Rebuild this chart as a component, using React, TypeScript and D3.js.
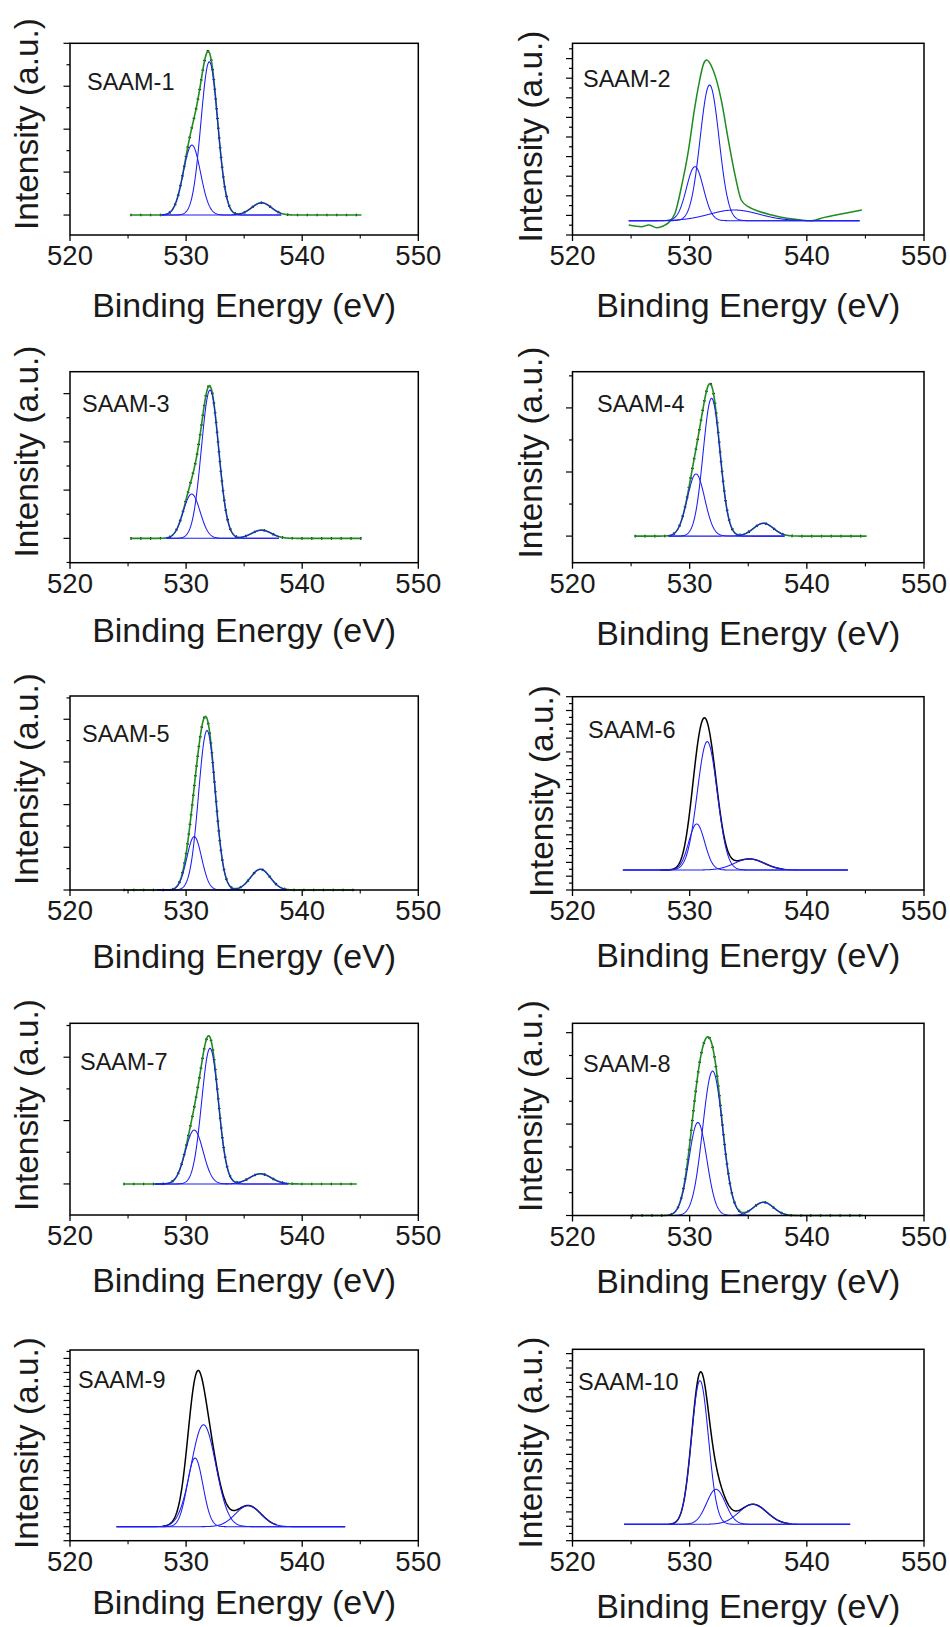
import React from 'react';
import * as d3 from 'd3';

// ---------------- DATA ----------------
const panelNames = ['SAAM-1', 'SAAM-2', 'SAAM-3', 'SAAM-4', 'SAAM-5', 'SAAM-6', 'SAAM-7', 'SAAM-8', 'SAAM-9', 'SAAM-10'];
const xDomain: [number, number] = [520, 550];
const xTicksMajor = [520, 530, 540, 550];
const xTicksMinor = [525, 535, 545];
const xTitle = 'Binding Energy (eV)';
const yTitle = 'Intensity (a.u.)';

// fitted components per panel: [centre eV, height a.u., FWHM eV]
const peaks1 = [[532.0, 7.14, 1.7], [530.5, 3.26, 1.75], [536.5, 0.57, 2.0]];
const peaks2 = [[531.7, 13.85, 1.9], [530.45, 5.51, 1.7], [533.8, 1.09, 5.0]];
const peaks3 = [[532.06, 6.15, 1.75], [530.48, 1.84, 1.7], [536.5, 0.34, 2.0]];
const peaks4 = [[531.87, 4.3, 1.7], [530.54, 1.94, 1.75], [536.3, 0.4, 2.0]];
const peaks5 = [[531.8, 7.47, 1.7], [530.7, 2.5, 1.5], [536.4, 0.97, 2.0]];
const peaks6 = [[531.5, 18.6, 2.0], [530.6, 6.67, 1.6], [535.1, 1.6, 3.0]];
const peaks7 = [[532.06, 4.28, 1.7], [530.7, 1.7, 1.8], [536.4, 0.32, 2.2]];
const peaks8 = [[531.96, 6.32, 2.0], [530.7, 4.07, 1.8], [536.3, 0.58, 2.0]];
const peaks9 = [[531.5, 14.53, 2.5], [530.77, 9.8, 1.6], [535.35, 3.0, 2.6]];
const peaks10 = [[530.88, 19.96, 1.7], [532.25, 4.86, 1.9], [535.4, 2.78, 2.8]];
const allPeaks = [peaks1, peaks2, peaks3, peaks4, peaks5, peaks6, peaks7, peaks8, peaks9, peaks10];

// measured SAAM-2 curve (green), eV vs. intensity above the fit baseline
const saam2Measured = [
  [524.8, -0.44], [525.9, -0.61], [526.5, -0.44], [527.2, -0.71], [527.75, -0.54], [528.2, -0.2],
  [528.75, 0.75], [529.3, 3.47], [529.9, 7.21], [530.4, 11.29], [530.8, 14.01], [531.2, 16.05],
  [531.45, 16.39], [532.0, 15.37], [532.7, 12.31], [533.3, 8.23], [533.9, 4.49], [534.4, 2.11],
  [535.0, 1.43], [536.0, 0.92], [537.0, 0.58], [538.3, 0.24], [539.5, 0.07], [540.4, 0.0],
  [541.5, 0.34], [542.5, 0.58], [543.5, 0.82], [544.7, 1.09],
];

// energy span of the envelope / data curve and of the fitted components
const envelopeSpan = [[525.2, 545.1], [524.8, 544.7], [525.2, 545.1], [525.3, 545.1], [524.6, 544.5], [527.5, 538.0], [524.6, 544.7], [525.05, 544.8], [528.0, 537.8], [528.3, 538.6]];
const componentSpan = [[527.9, 538.2], [524.8, 544.5], [528.3, 538.0], [528.2, 538.1], [527.5, 538.7], [524.3, 543.5], [527.3, 538.8], [528.2, 538.3], [524.0, 543.7], [524.4, 543.7]];
// intensity axis range (a.u., one minor tick = 1) and fit baseline level
const yRanges = [[-0.93, 8.0], [0, 19.56], [-1.01, 6.91], [-0.83, 5.13], [0, 9.09], [0, 28.0], [-0.98, 5.07], [0, 8.41], [0, 27.2], [0, 26.6]];
const baselineLevel = [0, 1.46, 0, 0, 0, 2.9, 0, 0, 2.0, 2.28];
const envelopeKind = ['green', 'greenPlain', 'green', 'green', 'green', 'black', 'green', 'green', 'black', 'black'];

// ---------------- LAYOUT ----------------
const colX = [[70, 418.3], [572.5, 924]];
const rowY = [[43.3, 235], [43.3, 235], [371.7, 562.7], [371.7, 562.7], [696, 890], [696.7, 890], [1023.3, 1215], [1023.3, 1215.5], [1350, 1540.7], [1349.3, 1540.7]];
const yTitlePos = [[37.5, 124], [542, 136.5], [38, 451.5], [542, 452.5], [38, 779], [553, 791], [38, 1105], [542, 1106], [38, 1443], [542, 1442.5]];
const xTitleBase = [317, 317, 642, 645, 968, 967, 1292, 1293, 1614, 1618];
const labelPos = [[87, 90], [583, 86.7], [82, 411.7], [597, 411.7], [82, 741.7], [588, 738], [80, 1070], [583, 1071.7], [78, 1388], [578, 1390]];

const FONT = "'Liberation Sans', Arial, Helvetica, sans-serif";
const TEXT = '#1a1a1a';
const GREEN = '#1e8c1e';
const BLUE = '#1c1cf5';

const gauss = (e: number, c: number, h: number, w: number) =>
  h * Math.exp(-4 * Math.LN2 * ((e - c) / w) ** 2);

function samples(a: number, b: number) {
  const s = d3.range(a, b, 0.04);
  s.push(b);
  return s;
}

function Panel({ i }: { i: number }) {
  const col = i % 2;
  const [x0, x1] = colX[col];
  const [top, bottom] = rowY[i];
  const x = d3.scaleLinear().domain(xDomain).range([x0, x1]);
  const y = d3.scaleLinear().domain(yRanges[i]).range([bottom, top]);
  const base = baselineLevel[i];
  const comps = allPeaks[i];
  const line = d3.line<number[]>().x((d) => x(d[0])).y((d) => y(d[1]));

  const [cs, ce] = componentSpan[i];
  const compPaths = comps.map(([c, h, w]) =>
    line(samples(cs, ce).map((e) => [e, base + gauss(e, c, h, w)]))
  );

  const [es, ee] = envelopeSpan[i];
  let envPath: string | null;
  if (i === 1) {
    envPath = d3
      .line<number[]>()
      .x((d) => x(d[0]))
      .y((d) => y(base + d[1]))
      .curve(d3.curveMonotoneX)(saam2Measured);
  } else {
    envPath = line(
      samples(es, ee).map((e) => [e, base + comps.reduce((s, [c, h, w]) => s + gauss(e, c, h, w), 0)])
    );
  }

  const [lo, hi] = yRanges[i];
  const yTicks = d3.range(Math.ceil(lo - 1e-6), Math.floor(hi + 1e-6) + 1);
  const kind = envelopeKind[i];

  return (
    <g>
      {/* data / envelope */}
      {kind === 'green' && (
        <>
          <path d={envPath || ''} fill="none" stroke="#000" strokeWidth={2.6} strokeDasharray="1.3 8.5" />
          <path d={envPath || ''} fill="none" stroke={GREEN} strokeWidth={1.6} />
        </>
      )}
      {kind === 'greenPlain' && <path d={envPath || ''} fill="none" stroke={GREEN} strokeWidth={1.5} />}
      {kind === 'black' && <path d={envPath || ''} fill="none" stroke="#000" strokeWidth={1.5} />}
      {compPaths.map((p, k) => (
        <path key={k} d={p || ''} fill="none" stroke={BLUE} strokeWidth={1.05} />
      ))}
      {/* frame */}
      <rect x={x0} y={top} width={x1 - x0} height={bottom - top} fill="none" stroke="#000" strokeWidth={1.5} />
      {/* x ticks */}
      {xTicksMajor.map((t) => (
        <line key={'M' + t} x1={x(t)} x2={x(t)} y1={bottom} y2={bottom + 6} stroke="#000" strokeWidth={1.3} />
      ))}
      {xTicksMinor.map((t) => (
        <line key={'m' + t} x1={x(t)} x2={x(t)} y1={bottom} y2={bottom + 3.5} stroke="#000" strokeWidth={1.1} />
      ))}
      {xTicksMajor.map((t) => (
        <text key={'L' + t} x={x(t)} y={bottom + 30} textAnchor="middle" fontSize={27.5} fontFamily={FONT} fill={TEXT}>
          {t}
        </text>
      ))}
      {/* y ticks */}
      {yTicks.map((t) => (
        <line
          key={'y' + t}
          x1={x0}
          x2={x0 - (t % 2 === 0 ? 6.5 : 3.5)}
          y1={y(t)}
          y2={y(t)}
          stroke="#000"
          strokeWidth={1.2}
        />
      ))}
      {/* titles */}
      <text
        x={(x0 + x1) / 2}
        y={xTitleBase[i]}
        textAnchor="middle"
        fontSize={33}
        fontFamily={FONT}
        fill={TEXT}
        textLength={304}
        lengthAdjust="spacingAndGlyphs"
      >
        {xTitle}
      </text>
      <text
        transform={`translate(${yTitlePos[i][0]},${yTitlePos[i][1]}) rotate(-90)`}
        textAnchor="middle"
        fontSize={33}
        fontFamily={FONT}
        fill={TEXT}
        textLength={212}
        lengthAdjust="spacingAndGlyphs"
      >
        {yTitle}
      </text>
      <text x={labelPos[i][0]} y={labelPos[i][1]} fontSize={23.5} fontFamily={FONT} fill={TEXT}>
        {panelNames[i]}
      </text>
    </g>
  );
}

export default function App() {
  return (
    <svg
      width={950}
      height={1627}
      viewBox="0 0 950 1627"
      style={{ position: 'absolute', left: 0, top: 0, background: '#fff' }}
    >
      <rect x={0} y={0} width={950} height={1627} fill="#fff" />
      {panelNames.map((_, i) => (
        <Panel key={i} i={i} />
      ))}
    </svg>
  );
}
